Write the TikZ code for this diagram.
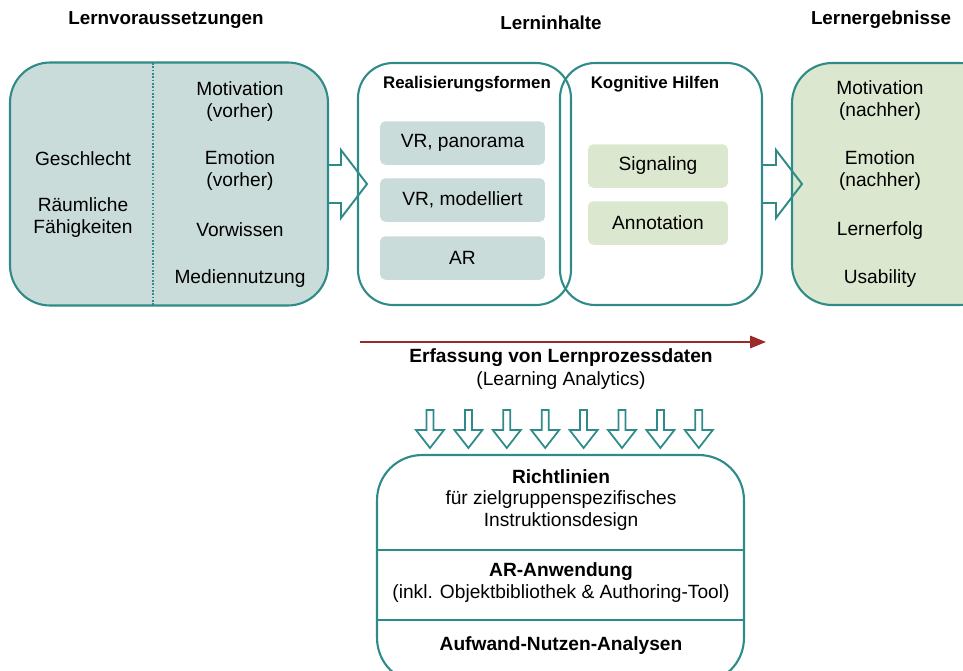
\documentclass[tikz,border=0pt]{standalone}
\usepackage{fontspec}
\setmainfont{Liberation Sans}
\usetikzlibrary{arrows.meta}

\definecolor{rand}{HTML}{2E8B87}
\definecolor{tealfill}{HTML}{CADCD9}
\definecolor{gruenfill}{HTML}{DBE8CF}
\definecolor{pfeilrot}{HTML}{9B2A2A}

\begin{document}
\begin{tikzpicture}[x=0.02cm, y=-0.02cm,
    every node/.style={font=\fontsize{10.9}{12.5}\selectfont, align=center, inner sep=0pt},
    titel/.style={font=\fontsize{10.7}{12.5}\selectfont\bfseries},
    kopf/.style={font=\fontsize{9.6}{11}\selectfont\bfseries},
    bigbox/.style={draw=rand, line width=1.2pt, rounded corners=0.8cm},
    innerbox/.style={rounded corners=3pt, minimum height=0.87cm},
    blockpfeil/.style={draw=rand, line width=1.1pt, line join=miter}]
    \useasboundingbox (0,0) rectangle (963,670);
    \clip (0,0) rectangle (963,670);

    % Ueberschriften
    \node[titel] (tvor) at (166,20) {Lernvoraussetzungen};
    \node[titel] (tinh) at (551,23) {Lerninhalte};
    \node[titel] (terg) at (881,20) {Lernergebnisse};

    % linke Box
    \node[bigbox, fill=tealfill, minimum width=6.36cm, minimum height=4.86cm] (links) at (169,184) {};
    \draw[rand, densely dotted, line width=0.9pt] (153,63) -- (153,305);
    \node (gesch) at (83,159) {Geschlecht};
    \node (raum) at (83,218) {Räumliche\\Fähigkeiten};
    \node (motv) at (240,102) {Motivation\\(vorher)};
    \node (emov) at (240,171) {Emotion\\(vorher)};
    \node (vorw) at (240,230) {Vorwissen};
    \node (medn) at (240,279) {Mediennutzung};

    % Lerninhalte
    \node[bigbox, rounded corners=0.7cm, minimum width=4.26cm, minimum height=4.84cm] (real) at (464.5,184) {};
    \node[bigbox, rounded corners=0.7cm, minimum width=4.04cm, minimum height=4.84cm] (kogn) at (661,184) {};
    \node[kopf] (treal) at (467,84) {Realisierungsformen};
    \node[kopf] (tkogn) at (655,84) {Kognitive Hilfen};
    \node[innerbox, fill=tealfill, minimum width=3.3cm] (vrpan) at (462.5,143) {VR, panorama};
    \node[innerbox, fill=tealfill, minimum width=3.3cm] (vrmod) at (462.5,200) {VR, modelliert};
    \node[innerbox, fill=tealfill, minimum width=3.3cm] (ar) at (462.5,258) {AR};
    \node[innerbox, fill=gruenfill, minimum width=2.8cm] (sign) at (658,166) {Signaling};
    \node[innerbox, fill=gruenfill, minimum width=2.8cm] (anno) at (658,223) {Annotation};

    % rechte Box
    \node[bigbox, fill=gruenfill, minimum width=4.16cm, minimum height=4.84cm] (rechts) at (896,184) {};
    \node (motn) at (880,101) {Motivation\\(nachher)};
    \node (emon) at (880,171) {Emotion\\(nachher)};
    \node (lerf) at (880,231) {Lernerfolg};
    \node (usab) at (880,279) {Usability};

    % Blockpfeile
    \foreach \x in {328,763}
        \draw[blockpfeil] (\x,165) -- (\x+13,165) -- (\x+13,150) -- (\x+39,184)
            -- (\x+13,218) -- (\x+13,203) -- (\x,203);

    % Lernprozessdaten
    \coordinate (rstart) at (360,342);
    \coordinate (rende) at (766,342);
    \draw[pfeilrot, line width=1.2pt, -{Triangle[length=9pt,width=7pt]}] (rstart) -- (rende);
    \node[font=\fontsize{10.9}{12.5}\selectfont\bfseries] (erf) at (561,358) {Erfassung von Lernprozessdaten};
    \node (la) at (561,381) {(Learning Analytics)};

    \foreach \i in {0,...,7}
        \draw[blockpfeil, line width=1pt] (430+\i*38.4-3.5,410) -- (430+\i*38.4-3.5,430)
            -- (430+\i*38.4-14,430) -- (430+\i*38.4,448) -- (430+\i*38.4+14,430)
            -- (430+\i*38.4+3.5,430) -- (430+\i*38.4+3.5,410) -- cycle;

    % untere Box
    \node[bigbox, rounded corners=0.9cm, minimum width=7.34cm, minimum height=4.56cm] (unten) at (560.5,569) {};
    \draw[rand, line width=1.2pt] (377,550) -- (744,550);
    \draw[rand, line width=1.2pt] (377,620) -- (744,620);
    \node (richt) at (561,500) {\textbf{Richtlinien}\\für zielgruppenspezifisches\\Instruktionsdesign};
    \node (aranw) at (561,582.5) {\textbf{AR-Anwendung}\\(inkl. Objektbibliothek \& Authoring-Tool)};
    \node[font=\fontsize{10.9}{12.5}\selectfont\bfseries] (aufw) at (561,646) {Aufwand-Nutzen-Analysen};
\end{tikzpicture}
\end{document}
